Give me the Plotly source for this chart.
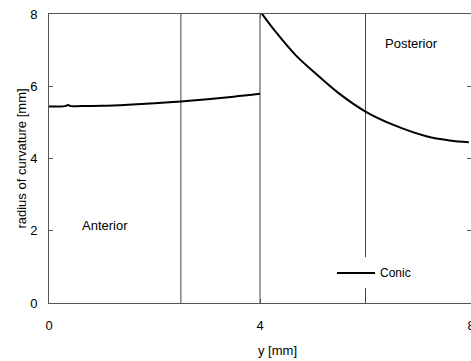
import plotly.graph_objects as go

ant_x = [0, 0.2, 0.3, 0.36, 0.42, 0.6, 1.0, 1.5, 2.0, 2.5, 3.0, 3.5, 4.0]
ant_y = [5.44, 5.44, 5.45, 5.48, 5.45, 5.45, 5.46, 5.49, 5.53, 5.58, 5.64, 5.71, 5.79]
post_x = [4.03, 4.29, 4.67, 5.05, 5.49, 6.0, 6.53, 7.17, 7.6, 7.96]
post_y = [8.02, 7.52, 6.87, 6.36, 5.81, 5.30, 4.93, 4.61, 4.50, 4.45]
boundaries = [2.5, 4, 6]
x_ticks = [0, 4, 8]
y_ticks = [0, 2, 4, 6, 8]
series_name = "Conic"

font = "Liberation Sans, Arial, sans-serif"
W, L, T, B = 422, 49, 14, 303
H = B - T

def px(xp):
    return (xp - L) / W

def py(yp):
    return (B - yp) / H

fig = go.Figure()
fig.add_trace(go.Scatter(x=ant_x, y=ant_y, mode="lines", line=dict(color="black", width=2, shape="spline"),
                         name=series_name, showlegend=False))
fig.add_trace(go.Scatter(x=post_x, y=post_y, mode="lines", line=dict(color="black", width=2, shape="spline"),
                         name=series_name, showlegend=False))
for b in boundaries:
    fig.add_shape(type="line", xref="x", yref="paper", x0=b, x1=b, y0=0, y1=1,
                  line=dict(color="#444", width=1), layer="below")

# legend box (white background hiding the boundary line)
fig.add_shape(type="rect", xref="paper", yref="paper", x0=px(332), x1=px(425), y0=py(288), y1=py(257),
              fillcolor="white", line=dict(width=0), layer="above")
fig.add_shape(type="line", xref="paper", yref="paper", x0=px(337), x1=px(375), y0=py(273), y1=py(273),
              line=dict(color="black", width=2), layer="above")
fig.add_annotation(text=series_name, x=px(378), y=py(273), xref="paper", yref="paper",
                   xanchor="left", yanchor="middle", showarrow=False, font=dict(size=12, color="black"))

fig.add_annotation(text="Anterior", x=px(80), y=py(225), xref="paper", yref="paper",
                   xanchor="left", yanchor="middle", showarrow=False, font=dict(size=13, color="black"))
fig.add_annotation(text="Posterior", x=px(383), y=py(43), xref="paper", yref="paper",
                   xanchor="left", yanchor="middle", showarrow=False, font=dict(size=13, color="black"))
# x-axis title (offset to the right as in the reference)
fig.add_annotation(text="y [mm]", x=px(277), y=py(350), xref="paper", yref="paper",
                   xanchor="center", yanchor="middle", showarrow=False, font=dict(size=13, color="black"))

fig.update_layout(
    width=471, height=361,
    margin=dict(l=L, r=471 - L - W, t=T, b=361 - B, autoexpand=False),
    plot_bgcolor="white", paper_bgcolor="white",
    font=dict(family=font, size=13, color="black"),
    showlegend=False,
    xaxis=dict(range=[0, 8], tickvals=x_ticks, ticktext=[str(v) for v in x_ticks],
               ticks="inside", ticklen=4, tickcolor="#555", showline=True, linecolor="#555",
               linewidth=1, mirror="ticks", showgrid=False, zeroline=False, automargin=False,
               ticklabelstandoff=10, ticklabeloverflow="allow"),
    yaxis=dict(range=[0, 8], tickvals=y_ticks, ticks="inside", ticklen=4, tickcolor="#555",
               showline=True, linecolor="#555", linewidth=1, mirror="ticks", showgrid=False,
               zeroline=False, ticklabelstandoff=8, automargin=False,
               title=dict(text="radius of curvature [mm]", standoff=0, font=dict(size=13))),
)
fig.write_html("out.html")
